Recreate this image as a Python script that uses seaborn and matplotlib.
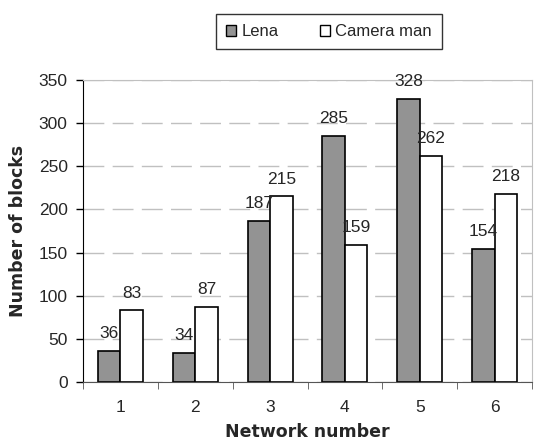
import seaborn as sns
import pandas as pd
import matplotlib.pyplot as plt
from matplotlib.patches import Patch

# 数据
networks = ['1', '2', '3', '4', '5', '6']
lena = [36, 34, 187, 285, 328, 154]
camera_man = [83, 87, 215, 159, 262, 218]

df = pd.DataFrame({
    'network': networks * 2,
    'blocks': lena + camera_man,
    'image': ['Lena'] * 6 + ['Camera man'] * 6,
})

sns.set_style('white')
plt.rcParams['font.family'] = ['Liberation Sans', 'DejaVu Sans']

fig = plt.figure(figsize=(5.35, 4.47), dpi=100)
ax = fig.add_axes([83 / 535, 1 - 382 / 447, (532 - 83) / 535, (382 - 80) / 447])

sns.barplot(data=df, x='network', y='blocks', hue='image',
            palette={'Lena': '#939393', 'Camera man': '#ffffff'},
            edgecolor='black', linewidth=1.2, width=0.6, ax=ax, legend=False)

ax.set_ylim(0, 350)
ax.set_yticks(range(0, 351, 50))
ax.yaxis.grid(True, color='#c0c0c0', linestyle=(0, (15, 6)), linewidth=1)
ax.set_axisbelow(True)

for c in ax.containers:
    ax.bar_label(c, padding=7, fontsize=12.5)

lab_font = {'family': 'DejaVu Sans', 'weight': 'bold', 'size': 12.5}
ax.set_xlabel('Network number', fontdict=lab_font, labelpad=6)
ax.set_ylabel('Number of blocks', fontdict=lab_font, labelpad=8)
ax.tick_params(axis='both', labelsize=12.5)
ax.tick_params(axis='y', length=5, width=1, direction='out', left=True, color='black', pad=6)
ax.tick_params(axis='x', length=0, pad=13)
# 分组之间的刻度
ax.set_xticks([i + 0.5 for i in range(-1, 6)], minor=True)
ax.tick_params(axis='x', which='minor', length=5, direction='out', bottom=True, color='#555555')

for s in ['top', 'right']:
    ax.spines[s].set_color('#c0c0c0')
ax.spines['left'].set_color('black')
ax.spines['bottom'].set_color('#555555')

handles = [Patch(facecolor='#939393', edgecolor='black', label='Lena'),
           Patch(facecolor='white', edgecolor='black', label='Camera man')]
fig.legend(handles=handles, loc='upper center', bbox_to_anchor=(329 / 535, 1 - 6 / 447),
           ncol=2, frameon=True, fancybox=False, edgecolor='black', fontsize=12,
           handlelength=0.6, handleheight=0.6, columnspacing=2.5, borderpad=0.6,
           handletextpad=0.3)

plt.savefig('out.png', dpi=100)
